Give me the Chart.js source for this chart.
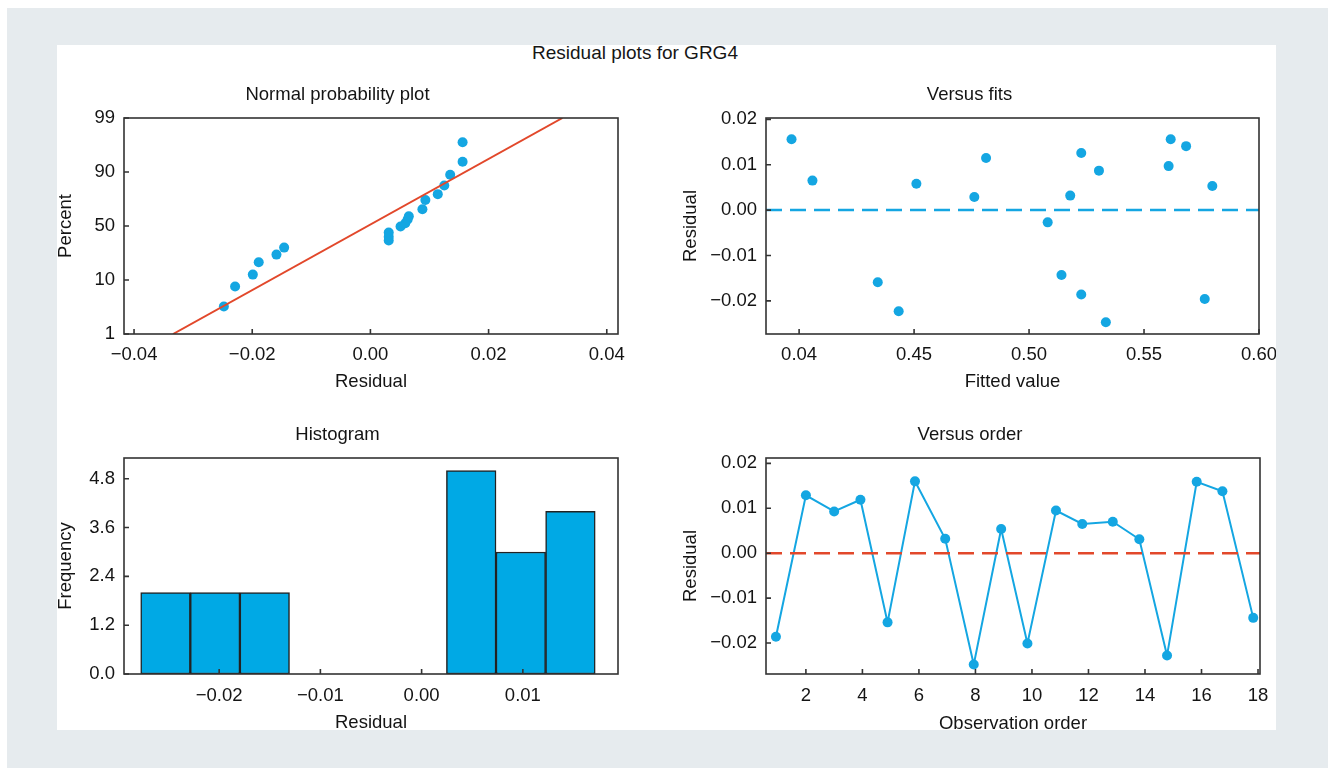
<!DOCTYPE html>
<html>
<head>
<meta charset="utf-8">
<script src="https://cdn.jsdelivr.net/npm/chart.js@4.4.1/dist/chart.umd.min.js"></script>
<style>
body{margin:0;background:#fff;width:1328px;height:768px;overflow:hidden;font-family:"Liberation Sans",Arial,sans-serif;}
#bg{position:absolute;left:7px;top:8px;width:1321px;height:760px;background:#e6ebee;}
#sheet{position:absolute;left:57px;top:45px;width:1219px;height:685px;background:#fff;overflow:hidden;}
#sheet canvas{position:absolute;}
#mainTitle{position:absolute;left:0;width:1270px;top:42px;text-align:center;font-size:19px;line-height:22px;color:#161616;}
</style>
</head>
<body>
<div id="bg"></div>
<div id="sheet">
<canvas id="npp" width="600" height="327" style="left:0px;top:30px"></canvas>
<canvas id="fits" width="620" height="327" style="left:623px;top:30px"></canvas>
<canvas id="hist" width="600" height="325" style="left:0px;top:370px"></canvas>
<canvas id="order" width="620" height="325" style="left:623px;top:370px"></canvas>
</div>
<div id="mainTitle">Residual plots for GRG4</div>
<script>
// Normal probability plot (percent axis drawn with evenly spaced ticks, y = tick position 0..4)
const nppResidual=[-0.0248,-0.0229,-0.0199,-0.0189,-0.0159,-0.0146,0.0031,0.0031,0.0031,0.0051,0.0059,0.0063,0.0065,0.0088,0.0093,0.0114,0.0125,0.0135,0.0156,0.0156];
const nppPosition=[0.51,0.88,1.10,1.33,1.47,1.60,1.73,1.80,1.88,1.99,2.05,2.12,2.18,2.31,2.48,2.59,2.75,2.95,3.19,3.55];
const percentTicks=[1,10,50,90,99];
const fitLineResidual=[-0.0334,0.0325];
const fitLinePosition=[0,4];
const nppXTicks=[-0.04,-0.02,0,0.02,0.04];

// Versus fits
const fittedValue=[0.3967,0.4058,0.4342,0.4433,0.4510,0.4762,0.4813,0.5081,0.5141,0.5179,0.5227,0.5227,0.5304,0.5334,0.5607,0.5616,0.5683,0.5764,0.5797];
const fitsResidual=[0.0156,0.0065,-0.0159,-0.0223,0.0058,0.0029,0.0115,-0.0027,-0.0143,0.0032,0.0126,-0.0186,0.0087,-0.0247,0.0097,0.0156,0.0141,-0.0196,0.0053];
const fitsTickValues=[0.40,0.45,0.50,0.55,0.60];
const fitsTickLabels=["0.04","0.45","0.50","0.55","0.60"];
const residTicks=[-0.02,-0.01,0,0.01,0.02];

// Histogram
const binCenters=[-0.0253,-0.0204,-0.0155,0.0049,0.0098,0.0147];
const binCounts=[2,2,2,5,3,4];
const histXTicks=[-0.02,-0.01,0,0.01];
const freqTicks=[0,1.2,2.4,3.6,4.8];

// Versus order
const obsOrder=[0.94,2,3,3.93,4.89,5.86,6.93,7.94,8.91,9.84,10.85,11.78,12.86,13.8,14.78,15.83,16.74,17.83];
const orderResidual=[-0.0186,0.0129,0.0093,0.0119,-0.0154,0.0160,0.0032,-0.0248,0.0054,-0.0201,0.0095,0.0065,0.0070,0.0031,-0.0228,0.0159,0.0138,-0.0144];
const orderTicks=[2,4,6,8,10,12,14,16,18];

const BLUE="#14a6e2";
const RED="#e2482b";
const TXT="#141414";
Chart.defaults.color=TXT;
Chart.defaults.animation=false;

const pts=(xs,ys)=>xs.map((x,i)=>({x:x,y:ys[i]}));
const fmt=v=>(v<0?"\u2212":"")+Math.abs(v).toFixed(2);

// frame round the plot area with short inward ticks
const frame={
  id:"frame",
  afterDraw(chart){
    const {ctx,chartArea:a,scales}=chart;
    ctx.save();
    ctx.strokeStyle="#333";
    ctx.lineWidth=1.6;
    ctx.strokeRect(a.left,a.top,a.right-a.left,a.bottom-a.top);
    ctx.beginPath();
    scales.x.ticks.forEach(t=>{
      const p=scales.x.getPixelForValue(t.value);
      ctx.moveTo(p,a.bottom);ctx.lineTo(p,a.bottom-5);
    });
    scales.y.ticks.forEach(t=>{
      const p=scales.y.getPixelForValue(t.value);
      ctx.moveTo(a.left,p);ctx.lineTo(a.left+5,p);
    });
    ctx.stroke();
    ctx.restore();
  }
};

// g: canvas box and plot area in page pixels, plus text positions
function baseOptions(g,t){
  const titleFont={family:"Liberation Sans",size:18.5,weight:"normal",lineHeight:1};
  const tickFont={family:"Liberation Sans",size:18.5,weight:"normal"};
  return {
    responsive:false,
    layout:{padding:{left:0,top:0,bottom:0,right:g.cx+g.cw-g.R}},
    plugins:{
      legend:{display:false},
      tooltip:{enabled:false},
      title:{display:true,text:t.title,font:titleFont,color:TXT,
        padding:{top:g.titleY-g.cy-9.25,bottom:(g.T-g.cy)-(g.titleY-g.cy-9.25)-18.5}}
    },
    scales:{
      x:{type:"linear",min:t.xMin,max:t.xMax,offset:false,
        grid:{display:false,drawTicks:false},border:{display:false},
        afterBuildTicks:s=>{s.ticks=t.xTicks.map(v=>({value:v}));},
        afterFit:s=>{s.height=g.cy+g.ch-g.B;},
        ticks:{font:tickFont,color:TXT,padding:g.xPad,maxRotation:0,autoSkip:false,callback:t.xLabel},
        title:{display:true,text:t.xTitle,font:titleFont,color:TXT,padding:{top:0,bottom:g.cy+g.ch-g.xTitleY-9.25}}
      },
      y:{type:"linear",min:t.yMin,max:t.yMax,
        grid:{display:false,drawTicks:false},border:{display:false},
        afterBuildTicks:s=>{s.ticks=t.yTicks.map(v=>({value:v}));},
        afterFit:s=>{s.width=g.L-g.cx;},
        ticks:{font:tickFont,color:TXT,padding:g.yPad,autoSkip:false,callback:t.yLabel},
        title:{display:true,text:t.yTitle,font:titleFont,color:TXT,padding:{top:g.yTitleX-g.cx-9.25,bottom:0}}
      }
    }
  };
}

// Normal probability plot
new Chart(document.getElementById("npp"),{
  type:"scatter",
  data:{datasets:[
    {data:pts(fitLineResidual,fitLinePosition),showLine:true,borderColor:RED,borderWidth:2,pointRadius:0},
    {data:pts(nppResidual,nppPosition),pointRadius:5,pointBackgroundColor:BLUE,pointBorderWidth:0}
  ]},
  options:baseOptions(
    {cx:57,cy:75,cw:600,ch:327,L:124,T:118,R:618,B:334,titleY:95,xTitleY:382,yTitleX:66,xPad:10,yPad:9},
    {title:"Normal probability plot",xTitle:"Residual",yTitle:"Percent",
     xMin:-0.0417,xMax:0.0419,yMin:0,yMax:4,xTicks:nppXTicks,yTicks:[0,1,2,3,4],
     xLabel:v=>fmt(v),yLabel:(v,i)=>String(percentTicks[i])}),
  plugins:[frame]
});

// Versus fits
const fitsMin=0.3856,fitsMax=0.60;
new Chart(document.getElementById("fits"),{
  type:"scatter",
  data:{datasets:[
    {data:pts([fitsMin,fitsMax],[0,0]),showLine:true,borderColor:BLUE,borderWidth:2.5,borderDash:[16,8],pointRadius:0},
    {data:pts(fittedValue,fitsResidual),pointRadius:5,pointBackgroundColor:BLUE,pointBorderWidth:0}
  ]},
  options:baseOptions(
    {cx:680,cy:75,cw:620,ch:327,L:766,T:118,R:1259,B:334,titleY:95,xTitleY:382,yTitleX:691,xPad:10,yPad:9},
    {title:"Versus fits",xTitle:"Fitted value",yTitle:"Residual",
     xMin:fitsMin,xMax:fitsMax,yMin:-0.0273,yMax:0.0203,xTicks:fitsTickValues,yTicks:residTicks,
     xLabel:(v,i)=>fitsTickLabels[i],yLabel:v=>fmt(v)}),
  plugins:[frame]
});

// Histogram
new Chart(document.getElementById("hist"),{
  type:"bar",
  data:{datasets:[
    {data:pts(binCenters,binCounts),backgroundColor:"#00a9e5",borderColor:"#222",borderWidth:1.5,
     borderSkipped:false,barPercentage:1,categoryPercentage:1}
  ]},
  options:baseOptions(
    {cx:57,cy:415,cw:600,ch:325,L:124,T:458,R:618,B:674,titleY:435,xTitleY:723,yTitleX:66,xPad:11,yPad:9},
    {title:"Histogram",xTitle:"Residual",yTitle:"Frequency",
     xMin:-0.0294,xMax:0.0194,yMin:0,yMax:5.31,xTicks:histXTicks,yTicks:freqTicks,
     xLabel:v=>fmt(v),yLabel:v=>v.toFixed(1)}),
  plugins:[frame]
});

// Versus order
const orderMin=0.588,orderMax=18.07;
new Chart(document.getElementById("order"),{
  type:"scatter",
  data:{datasets:[
    {data:pts([orderMin,orderMax],[0,0]),showLine:true,borderColor:RED,borderWidth:2.5,borderDash:[16,8],pointRadius:0},
    {data:pts(obsOrder,orderResidual),showLine:true,borderColor:BLUE,borderWidth:2,pointRadius:5,pointBackgroundColor:BLUE,pointBorderWidth:0}
  ]},
  options:baseOptions(
    {cx:680,cy:415,cw:620,ch:325,L:766,T:458,R:1260,B:674,titleY:435,xTitleY:724,yTitleX:691,xPad:11,yPad:9},
    {title:"Versus order",xTitle:"Observation order",yTitle:"Residual",
     xMin:orderMin,xMax:orderMax,yMin:-0.0269,yMax:0.0212,xTicks:orderTicks,yTicks:residTicks,
     xLabel:v=>String(v),yLabel:v=>fmt(v)}),
  plugins:[frame]
});
</script>
</body>
</html>
